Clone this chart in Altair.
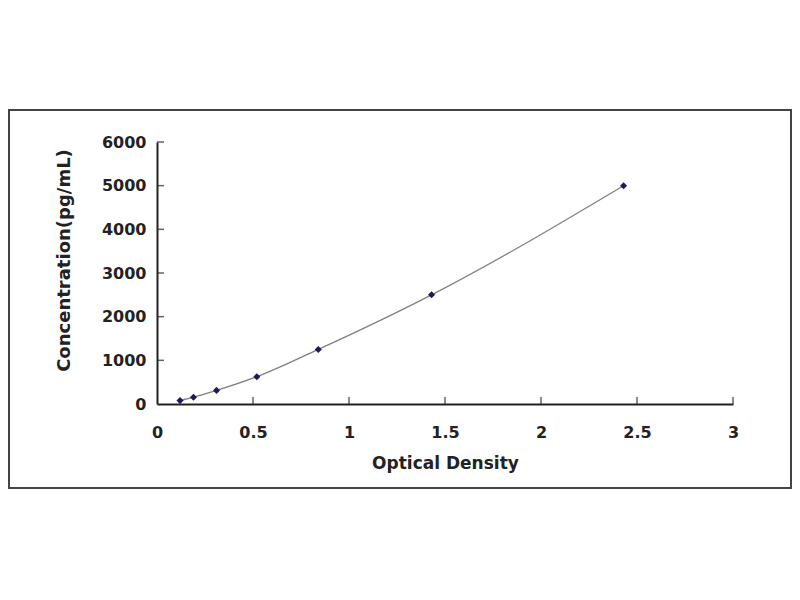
import pandas as pd
import altair as alt

# standard curve readings
od = [0.12, 0.19, 0.31, 0.52, 0.84, 1.43, 2.43]
conc = [78, 156, 312, 625, 1250, 2500, 5000]

x_ticks = [0.5, 1, 1.5, 2, 2.5, 3]
y_ticks = [1000, 2000, 3000, 4000, 5000, 6000]

dat = pd.DataFrame({"od": od, "conc": conc})
xt = pd.DataFrame({"v": x_ticks})
yt = pd.DataFrame({"v": y_ticks})

FONT = "DejaVu Sans"

x_scale = alt.Scale(domain=[0, 3], nice=False)
y_scale = alt.Scale(domain=[0, 6000], nice=False)

x_axis = alt.Axis(values=[0, 0.5, 1, 1.5, 2, 2.5, 3], format="~g", ticks=False,
                  grid=False, labelFlush=False, labelPadding=20, titlePadding=15,
                  titleFontSize=17)
y_axis = alt.Axis(values=[0, 1000, 2000, 3000, 4000, 5000, 6000], format="d",
                  ticks=False, grid=False, labelFlush=False, labelPadding=11,
                  titleX=-84, titleY=118, titleFontSize=18)

line = alt.Chart(dat).mark_line(interpolate="monotone", color="#808080", strokeWidth=1.3).encode(
    alt.X("od:Q", scale=x_scale, axis=x_axis, title="Optical Density"),
    alt.Y("conc:Q", scale=y_scale, axis=y_axis, title="Concentration(pg/mL)"),
)

points = alt.Chart(dat).mark_point(shape="diamond", filled=True, size=50,
                                   color="#1b1b5a", opacity=1).encode(
    x="od:Q", y="conc:Q"
)

# inside tick marks, Excel style
xtick = alt.Chart(xt).mark_tick(orient="vertical", size=7, thickness=1.5,
                                yOffset=-3.5, color="#222222").encode(
    x="v:Q", y=alt.datum(0)
)
ytick = alt.Chart(yt).mark_tick(orient="horizontal", size=7, thickness=1.5,
                                xOffset=3.5, color="#222222").encode(
    y="v:Q", x=alt.datum(0)
)

frame = alt.Chart(pd.DataFrame({"a": [0]})).mark_rect(
    fill="transparent", stroke="#444444", strokeWidth=2
).encode(
    x=alt.value(-148), x2=alt.value(634), y=alt.value(-32), y2=alt.value(346)
)

chart = (
    alt.layer(frame, line, points, xtick, ytick)
    .properties(width=576, height=262,
                autosize=alt.AutoSizeParams(type="none"),
                padding={"left": 149, "top": 134, "right": 59, "bottom": 94})
    .configure_view(stroke=None)
    .configure_axis(
        domainColor="#222222", domainWidth=2,
        labelFont=FONT, labelFontSize=16, labelFontWeight="bold", labelColor="#222222",
        titleFont=FONT, titleFontWeight="bold", titleColor="#222222",
    )
)

chart.save("out.html", embed_options={"renderer": "svg", "actions": False})
